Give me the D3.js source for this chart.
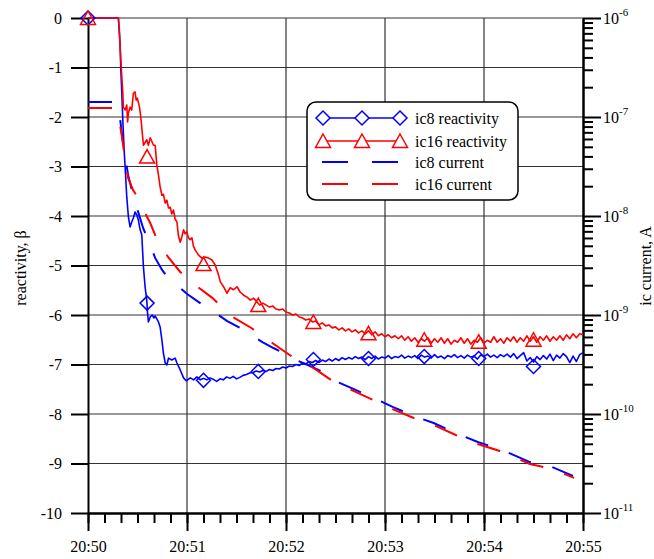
<!DOCTYPE html>
<html><head><meta charset="utf-8">
<script src="https://cdn.jsdelivr.net/npm/d3@7"></script>
<style>body{margin:0;background:#fff} svg, svg text{font-family:"Liberation Serif","DejaVu Serif",serif !important;fill:#000}</style>
</head><body><svg id="c" width="654" height="559" font-family="Liberation Serif"></svg>
<script>
const timeTicks = [0, 60, 120, 180, 240, 300];
const timeLabels = ["20:50", "20:51", "20:52", "20:53", "20:54", "20:55"];
const reactivityTicks = [0, -1, -2, -3, -4, -5, -6, -7, -8, -9, -10];
const currentDecades = [1e-6, 1e-7, 1e-8, 1e-9, 1e-10, 1e-11];
const currentExponents = ["-6", "-7", "-8", "-9", "-10", "-11"];
const legendLabels = ["ic8 reactivity", "ic16 reactivity", "ic8 current", "ic16 current"];

// seconds after 20:50:00
const markerTimes = [0, 35.8, 70.0, 103.2, 136.6, 170.0, 203.8, 236.8, 270.0];
const ic8Markers = [0, -5.76, -7.32, -7.14, -6.90, -6.88, -6.84, -6.88, -7.04];
const ic16Markers = [0, -2.80, -4.97, -5.80, -6.14, -6.37, -6.50, -6.54, -6.50];

const ic8Reactivity = [[0,0],[18.4,0],[19.4,-0.51],[19.9,-1.05],[20.5,-1.52],[21.1,-2.06],[21.9,-2.67],[22.5,-3.01],[23.5,-3.62],[24.5,-4.02],[25.5,-4.22],[26.5,-4.12],[27.5,-4.04],[28.5,-3.92],[29.6,-3.98],[30.5,-4.08],[31.6,-4.28],[32.6,-4.38],[33.6,-5.03],[34.6,-5.43],[35.6,-5.70],[36.1,-5.96],[36.6,-6.14],[37.7,-6.04],[38.9,-6.00],[40.0,-6.06],[40.7,-6.02],[41.7,-6.08],[42.7,-6.14],[43.7,-6.24],[44.8,-6.51],[45.7,-6.77],[46.8,-6.97],[47.8,-7.01],[48.8,-6.87],[50.8,-6.91],[52.8,-6.87],[53.9,-6.97],[55.9,-7.11],[57.9,-7.27],[59.5,-7.33],
[62,-7.27],[64,-7.31],[66,-7.25],[68,-7.31],[70,-7.28],[72,-7.31],[74,-7.27],[76,-7.30],[78,-7.34],[80,-7.29],[82,-7.31],[84,-7.25],[86,-7.28],[88,-7.24],[90,-7.29],[92,-7.26],[94,-7.22],[96,-7.20],[98,-7.17],[100,-7.16],[102,-7.13],[104,-7.15],[106,-7.12],[108,-7.14],[110,-7.10],[112,-7.12],[114,-7.08],[116,-7.09],[118,-7.05],[120,-7.07],[122,-7.03],[124,-7.04],[126,-7.00],[128,-7.02],[130,-6.97],[132,-6.99],[134,-6.94],[136,-6.96],[138,-6.92],[140,-6.96],[142,-6.91],[144,-6.94],[146,-6.89],[148,-6.93],[150,-6.88],[152,-6.92],[154,-6.86],[156,-6.90],[158,-6.86],[160,-6.89],[162,-6.84],[164,-6.88],[166,-6.85],[168,-6.90],[170,-6.84],[172,-6.88],[174,-6.83],[176,-6.89],[178,-6.85],[180,-6.87],[182,-6.82],[184,-6.88],[186,-6.84],[188,-6.86],[190,-6.81],[192,-6.87],[194,-6.83],[196,-6.86],[198,-6.82],[200,-6.88],[202,-6.81],[204,-6.85],[206,-6.83],[208,-6.87],[210,-6.80],[212,-6.86],[214,-6.83],[216,-6.88],[218,-6.82],[220,-6.85],[222,-6.80],[224,-6.86],[226,-6.82],[228,-6.87],[230,-6.81],[232,-6.85],[234,-6.83],[236,-6.89],[238,-6.81],[240,-6.84],[242,-6.79],[244,-6.85],[246,-6.81],[248,-6.86],[250,-6.80],[252,-6.84],[254,-6.79],[256,-6.85],[258,-6.78],[260,-6.88],[262,-6.82],[264,-6.76],[266,-6.93],[268,-6.86],[270,-6.95],[272,-6.84],[274,-6.90],[276,-6.82],[278,-6.89],[280,-6.79],[282,-6.92],[284,-6.81],[286,-6.87],[288,-6.78],[290,-6.84],[292,-6.96],[294,-6.83],[296,-6.94],[298,-6.80],[300,-6.76]];

const ic16Reactivity = [[0,0],[18.4,0],[19.0,-0.24],[19.4,-0.51],[19.9,-0.85],[20.5,-1.19],[21.1,-1.52],[21.4,-1.80],[22.5,-1.86],[23.5,-1.76],[24.0,-2.10],[24.5,-1.92],[25.5,-1.80],[26.5,-1.86],[27.5,-1.52],[28.5,-1.49],[29.2,-1.66],[29.9,-1.62],[31.2,-1.80],[32.0,-2.00],[32.6,-2.22],[33.6,-2.57],[35.6,-2.46],[36.6,-2.57],[37.7,-2.42],[39.7,-2.57],[40.7,-2.57],[41.7,-2.97],[42.7,-3.17],[43.7,-3.41],[44.8,-3.58],[45.7,-3.56],[46.8,-3.74],[47.8,-3.68],[48.8,-3.84],[49.8,-3.82],[50.8,-3.96],[51.8,-3.88],[52.8,-4.06],[53.9,-4.12],[54.8,-4.40],[55.9,-4.53],[56.9,-4.42],[57.9,-4.28],[58.9,-4.36],[59.9,-4.32],[60.9,-4.44],[61.9,-4.48],[63.0,-4.44],[63.9,-4.61],[65.0,-4.69],[67.0,-4.79],[69.1,-4.85],[71.1,-4.83],[73.1,-4.85],[75.1,-4.89],[77.1,-4.99],[79.1,-5.19],[80.2,-5.33],[82.2,-5.43],[84.2,-5.56],[86.2,-5.45],[88.2,-5.49],[90.3,-5.43],[92.3,-5.54],[94.3,-5.60],[96.4,-5.64],[98.4,-5.70],[100.4,-5.66],
[102,-5.72],[104,-5.80],[106,-5.76],[108,-5.80],[110,-5.84],[112,-5.82],[114,-5.88],[116,-5.90],[118,-5.88],[120,-5.94],[122,-5.96],[124,-6.00],[126,-5.98],[128,-6.04],[130,-6.06],[132,-6.10],[134,-6.08],[136,-6.14],[138,-6.12],[140,-6.20],[142,-6.16],[144,-6.22],[146,-6.20],[148,-6.26],[150,-6.24],[152,-6.30],[154,-6.26],[156,-6.32],[158,-6.28],[160,-6.34],[162,-6.30],[164,-6.36],[166,-6.32],[168,-6.38],[170,-6.32],[172,-6.40],[174,-6.34],[176,-6.42],[178,-6.38],[180,-6.44],[182,-6.40],[184,-6.46],[186,-6.42],[188,-6.48],[190,-6.42],[192,-6.51],[194,-6.44],[196,-6.53],[198,-6.46],[200,-6.55],[202,-6.48],[204,-6.53],[206,-6.46],[208,-6.57],[210,-6.48],[212,-6.55],[214,-6.46],[216,-6.57],[218,-6.48],[220,-6.59],[222,-6.51],[224,-6.55],[226,-6.46],[228,-6.57],[230,-6.48],[232,-6.59],[234,-6.51],[236,-6.55],[238,-6.46],[240,-6.57],[242,-6.51],[244,-6.55],[246,-6.44],[248,-6.55],[250,-6.48],[252,-6.57],[254,-6.46],[256,-6.53],[258,-6.44],[260,-6.55],[262,-6.46],[264,-6.53],[266,-6.42],[268,-6.53],[270,-6.44],[272,-6.55],[274,-6.44],[276,-6.51],[278,-6.42],[280,-6.53],[282,-6.44],[284,-6.51],[286,-6.42],[288,-6.51],[290,-6.40],[292,-6.48],[294,-6.38],[296,-6.46],[298,-6.38],[300,-6.40]];

// ionisation chamber current, A
const ic8Current = [[0,1.42e-7],[14.6,1.42e-7],[18.2,1.32e-7],[19.4,9.77e-8],[20.6,6.58e-8],[21.9,4.64e-8],[24.3,2.59e-8],[27.3,1.63e-8],[30.4,1.10e-8],[33.4,7.57e-9],[37.7,5.09e-9],[40.7,3.77e-9],[44.9,2.85e-9],[48.6,2.37e-9],[55.9,1.87e-9],[60.1,1.63e-9],[68.0,1.32e-9],[71.7,1.18e-9],[77.1,1.05e-9],[84.4,8.69e-10],[92.3,7.39e-10],[99.6,6.14e-10],[105.7,5.33e-10],[112.4,4.64e-10],[119.6,4.04e-10],[124.5,3.60e-10],[131.8,3.20e-10],[136.0,2.98e-10],[143.9,2.59e-10],[150.0,2.15e-10],[162.2,1.75e-10],[174.3,1.42e-10],[184.6,1.18e-10],[197.4,9.55e-11],[209.5,8.11e-11],[222.9,6.43e-11],[236.2,5.21e-11],[249.6,4.43e-11],[267.8,3.27e-11],[281.2,2.92e-11],[293.9,2.37e-11]];
const ic16Current = [[0,1.23e-7],[14.6,1.23e-7],[18.2,1.12e-7],[19.4,8.30e-8],[20.6,6.28e-8],[22.5,3.68e-8],[24.3,2.42e-8],[27.3,1.83e-8],[30.4,1.52e-8],[32.8,1.23e-8],[37.7,8.49e-9],[42.5,5.46e-9],[48.6,3.85e-9],[55.9,2.72e-9],[65.0,2.01e-9],[75.3,1.49e-9],[86.8,9.77e-10],[99.0,7.39e-10],[111.7,5.21e-10],[123.9,3.77e-10],[136.6,2.92e-10],[150.0,2.06e-10],[162.2,1.67e-10],[184.6,1.12e-10],[197.4,9.12e-11],[209.5,7.74e-11],[222.9,6.14e-11],[236.2,4.98e-11],[249.6,4.23e-11],[267.8,3.13e-11],[281.2,2.78e-11],[294.6,2.26e-11]];

const BLUE = "#0000ff", RED = "#ff0000";
const FONT = "Liberation Serif";
const svg = d3.select("#c");
const x = d3.scaleLinear().domain([0, 300]).range([88, 583]);
const y = d3.scaleLinear().domain([-10, 0]).range([513, 18]);
const yc = d3.scaleLog().domain([1e-11, 1e-6]).range([513, 18]);

// grid
svg.append("g").selectAll("line").data(reactivityTicks.slice(0, -1)).join("line")
  .attr("x1", x(0)).attr("x2", x(300)).attr("y1", d => y(d)).attr("y2", d => y(d))
  .attr("stroke", "#333").attr("stroke-width", 1.2);
svg.append("g").selectAll("line").data(timeTicks.slice(1, -1)).join("line")
  .attr("y1", y(0)).attr("y2", y(-10)).attr("x1", d => x(d)).attr("x2", d => x(d))
  .attr("stroke", "#333").attr("stroke-width", 1.2);

function styleAxis(g) {
  g.attr("font-family", FONT).attr("font-size", 16);
  g.select(".domain").attr("stroke", "#000").attr("stroke-width", 2);
  g.selectAll(".tick line").attr("stroke", "#000").attr("stroke-width", 2);
  g.selectAll("text").attr("font-size", 16).attr("font-family", FONT);
}

// bottom axis
const minorTimes = d3.range(0, 301, 10);
svg.append("g").attr("transform", `translate(0,${y(-10)})`)
  .call(d3.axisBottom(x).tickValues(minorTimes).tickSize(10).tickSizeOuter(0).tickFormat(""))
  .call(styleAxis);
svg.append("g").attr("transform", `translate(0,${y(-10)})`)
  .call(d3.axisBottom(x).tickValues(timeTicks).tickSize(18).tickSizeOuter(0).tickPadding(10)
    .tickFormat((d, i) => timeLabels[i]))
  .call(styleAxis);

// left axis
svg.append("g").attr("transform", `translate(${x(0)},0)`)
  .call(d3.axisLeft(y).tickValues(reactivityTicks).tickSize(17).tickSizeOuter(0).tickPadding(9)
    .tickFormat(d => d === 0 ? "0" : String(d)))
  .call(styleAxis);

// right axis
const minorCurrent = currentDecades.slice(1).flatMap(d => [2,3,4,5,6,7,8,9].map(k => k * d));
svg.append("g").attr("transform", `translate(${x(300)},0)`)
  .call(d3.axisRight(yc).tickValues(minorCurrent).tickSize(10).tickSizeOuter(0).tickFormat(""))
  .call(styleAxis);
svg.append("g").attr("transform", `translate(${x(300)},0)`)
  .call(d3.axisRight(yc).tickValues(currentDecades).tickSize(18).tickSizeOuter(0).tickFormat(""))
  .call(styleAxis);
const rl = svg.append("g").attr("font-family", FONT).selectAll("text").data(currentDecades).join("text")
  .attr("x", 603).attr("y", d => yc(d) + 6).attr("font-size", 16).attr("font-family", FONT);
rl.append("tspan").text("10");
rl.append("tspan").attr("dy", -8).attr("font-size", 11).text((d, i) => currentExponents[i]);

// axis titles
svg.append("text").attr("transform", "translate(26,268) rotate(-90)").attr("text-anchor", "middle")
  .attr("font-size", 16).attr("font-family", FONT).text("reactivity, β");
svg.append("text").attr("transform", "translate(651,266) rotate(-90)").attr("text-anchor", "middle")
  .attr("font-size", 16).attr("font-family", FONT).text("ic current, A");

// series
const lineR = d3.line().x(d => x(d[0])).y(d => y(d[1]));
const lineC = d3.line().x(d => x(d[0])).y(d => yc(d[1]));
const plot = svg.append("g");
plot.append("path").datum(ic8Reactivity).attr("d", lineR).attr("fill", "none").attr("stroke", BLUE).attr("stroke-width", 1.6).attr("stroke-linejoin", "round");
plot.append("path").datum(ic16Reactivity).attr("d", lineR).attr("fill", "none").attr("stroke", RED).attr("stroke-width", 1.6).attr("stroke-linejoin", "round");
plot.append("path").datum(ic8Current).attr("d", lineC).attr("fill", "none").attr("stroke", BLUE).attr("stroke-width", 2).attr("stroke-dasharray", "24,22");
plot.append("path").datum(ic16Current).attr("d", lineC).attr("fill", "none").attr("stroke", RED).attr("stroke-width", 2).attr("stroke-dasharray", "24,22");

const diamond = "M0,-7L7,0L0,7L-7,0Z";
const triangle = "M0,-7L7.5,6.5L-7.5,6.5Z";
plot.append("g").selectAll("path").data(markerTimes.map((t, i) => [t, ic8Markers[i]])).join("path")
  .attr("transform", d => `translate(${x(d[0])},${y(d[1])})`).attr("d", diamond)
  .attr("fill", "none").attr("stroke", BLUE).attr("stroke-width", 1.5);
plot.append("g").selectAll("path").data(markerTimes.map((t, i) => [t, ic16Markers[i]])).join("path")
  .attr("transform", d => `translate(${x(d[0])},${y(d[1])})`).attr("d", triangle)
  .attr("fill", "none").attr("stroke", RED).attr("stroke-width", 1.5);

// legend
const lg = svg.append("g");
lg.append("rect").attr("x", 307).attr("y", 102).attr("width", 211).attr("height", 98).attr("rx", 9)
  .attr("fill", "#fff").attr("stroke", "#000").attr("stroke-width", 1.5);
const rowsY = [118, 141, 162, 184];
const colors = [BLUE, RED, BLUE, RED];
const markX = [323, 362, 400];
legendLabels.forEach((lab, i) => {
  const yy = rowsY[i];
  const ln = lg.append("line").attr("x1", 322).attr("x2", 400).attr("y1", yy).attr("y2", yy)
    .attr("stroke", colors[i]).attr("stroke-width", i < 2 ? 1.5 : 2);
  if (i >= 2) ln.attr("stroke-dasharray", "26,24");
  if (i < 2) {
    markX.forEach(mx => lg.append("path").attr("transform", `translate(${mx},${yy})`)
      .attr("d", i === 0 ? diamond : triangle).attr("fill", "#fff").attr("stroke", colors[i]).attr("stroke-width", 1.5));
  }
  lg.append("text").attr("x", 415).attr("y", yy + 5.5).attr("font-size", 16).attr("font-family", FONT).text(lab);
});
</script></body></html>
